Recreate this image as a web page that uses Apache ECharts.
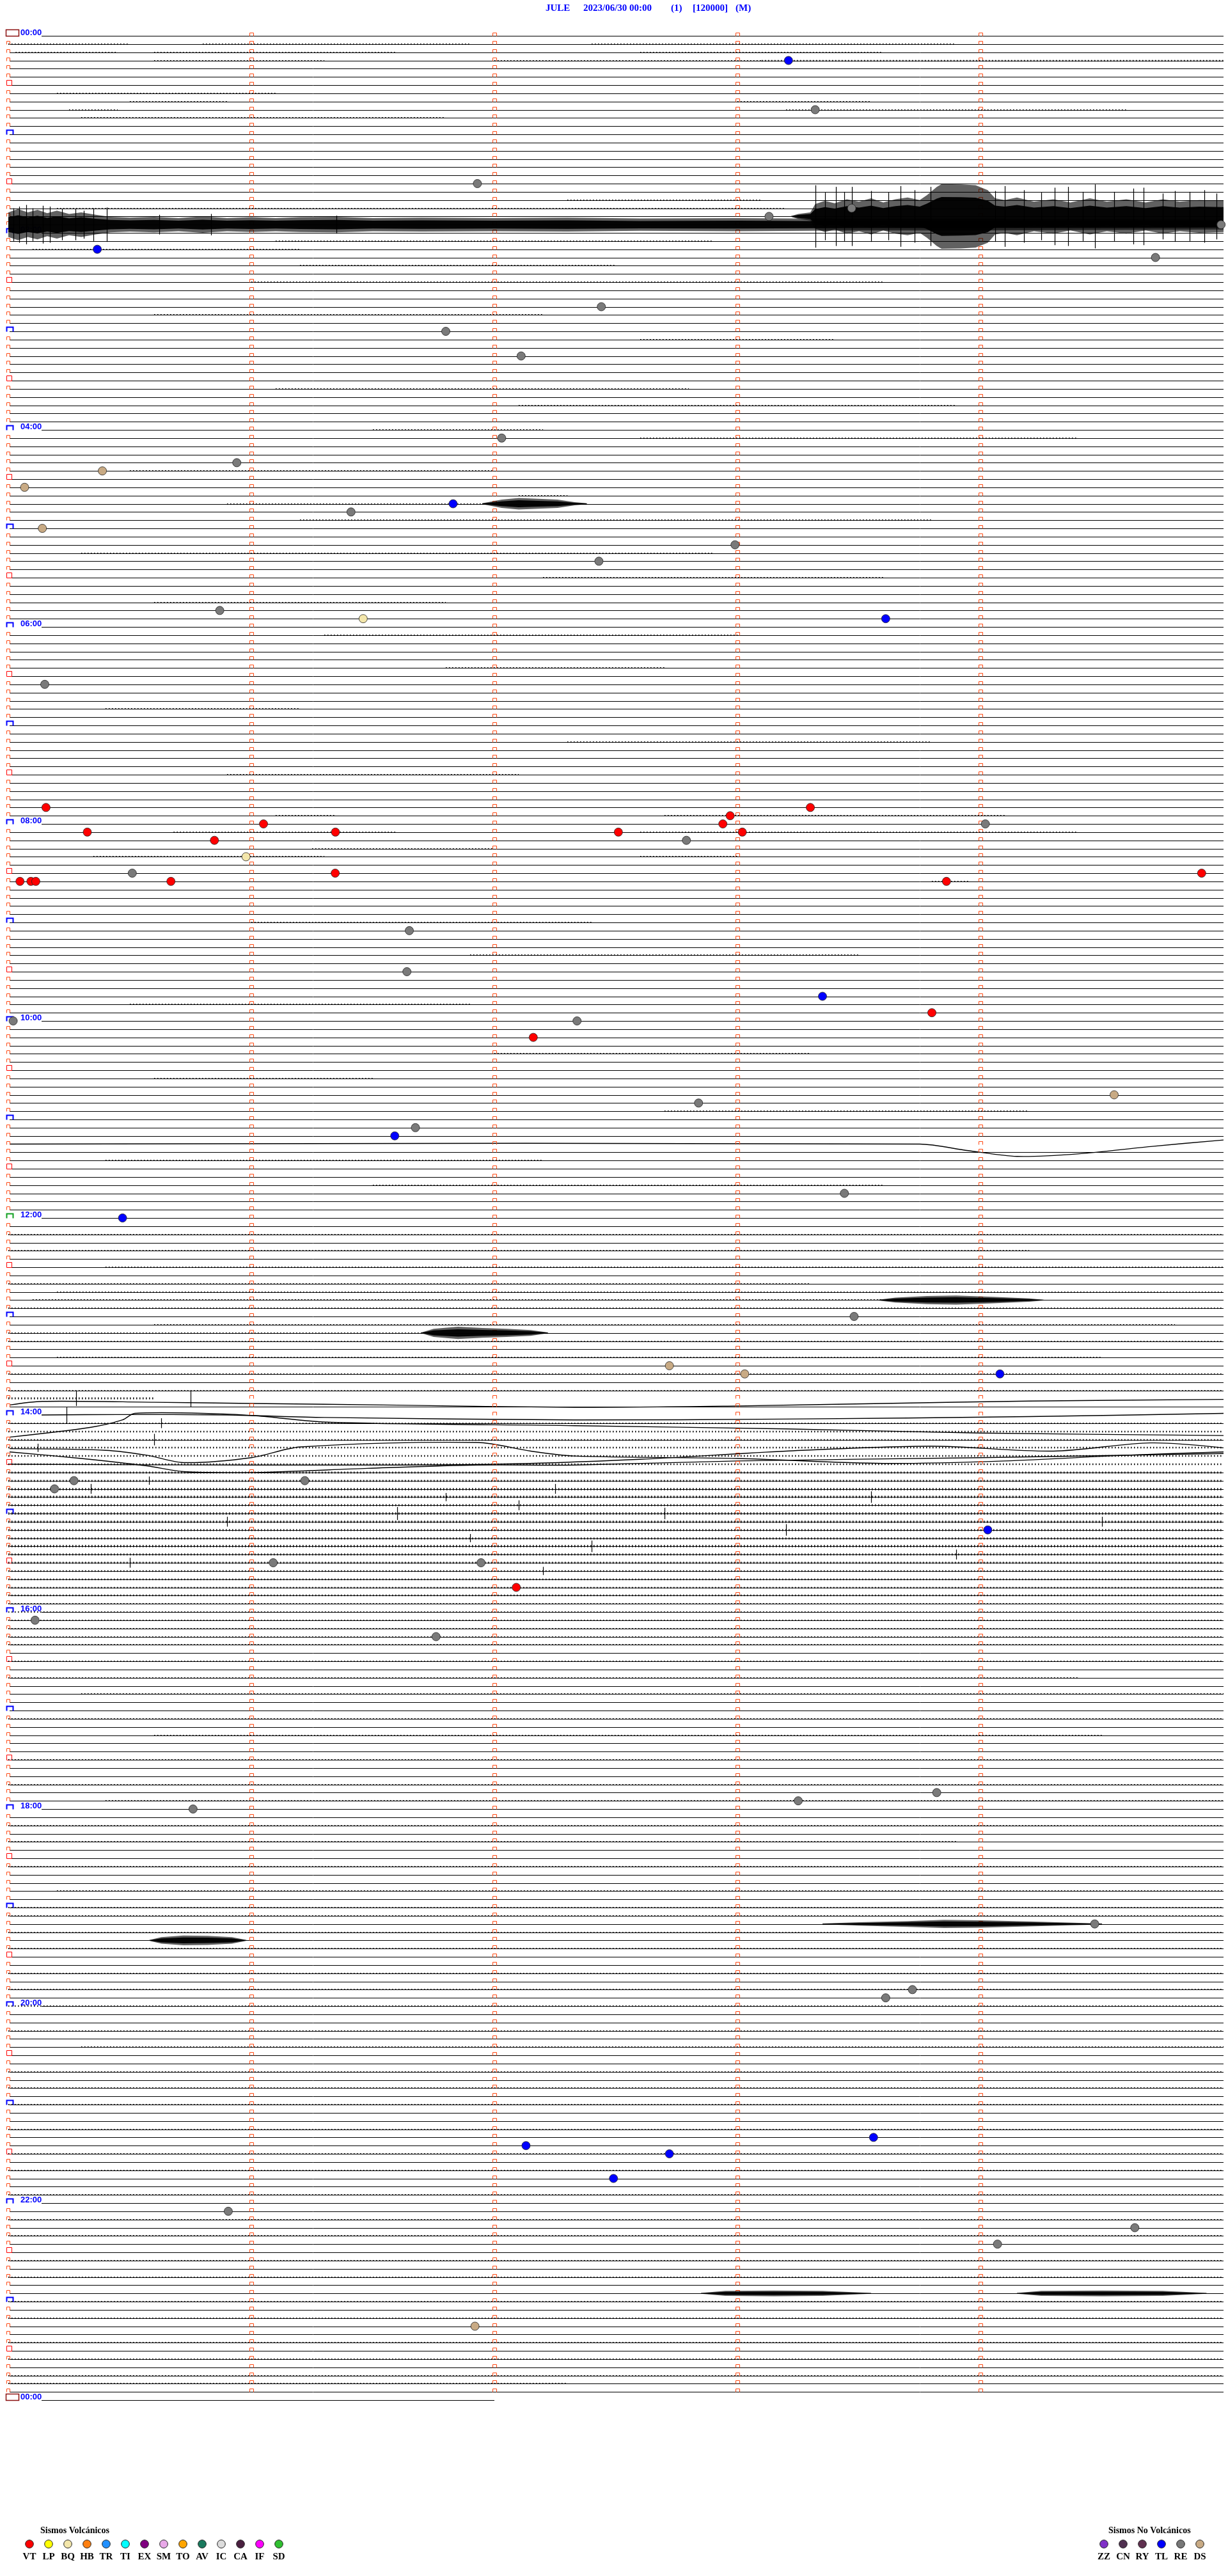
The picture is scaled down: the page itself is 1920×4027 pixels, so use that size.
<!DOCTYPE html>
<html><head><meta charset="utf-8">
<script src="https://cdn.jsdelivr.net/npm/echarts@6/dist/echarts.min.js"></script>
<style>html,body{margin:0;padding:0;background:#fff}#c{width:1920px;height:4027px}</style>
</head><body><div id="c"></div>
<script>
// ---------------- DATA ----------------
const STATION = 'JULE';
const DATE_TXT = '2023/06/30 00:00';
const CH_TXT = '(1)';
const SCALE_TXT = '[120000]';
const MODE_TXT = '(M)';
const N_LINES = 288;            // 5-minute traces
const MIN_PER_LINE = 5;
const LAST_LINE_END = 2;        // final 00:00 trace length (minutes)
const HOUR_LABELS = ['00:00','02:00','04:00','06:00','08:00','10:00','12:00','14:00','16:00','18:00','20:00','22:00','00:00'];

// event markers [minute, line]
const EV_RE = [[3.32,9],[1.93,18],[3.13,22],[3.47,21],[4.99,23],[4.72,27],[2.44,33],[1.80,36],[2.11,39],[2.03,49],[0.94,52],[1.41,58],[2.99,62],[2.43,64],[0.87,70],[0.15,79],[0.51,102],[2.79,98],[4.02,96],[1.65,109],[1.64,114],[0.02,120],[2.34,120],[2.84,130],[1.675,133],[3.44,141],[3.48,156],[0.27,176],[0.19,177],[1.22,176],[1.09,186],[1.945,186],[0.11,193],[1.76,195],[0.76,216],[3.25,215],[3.82,214],[4.47,230],[3.72,238],[3.61,239],[0.905,265],[4.635,267],[4.07,269]];
const EV_TL = [[3.21,3],[0.366,26],[1.83,57],[3.61,71],[3.35,117],[1.59,134],[0.47,144],[4.08,163],[4.03,182],[2.13,257],[2.72,258],[3.56,256],[2.49,261]];
const EV_VT = [[0.155,94],[3.30,94],[0.325,97],[0.848,98],[1.05,96],[1.346,97],[0.669,103],[0.048,103],[0.093,103],[0.113,103],[1.345,102],[2.97,95],[2.94,96],[2.51,97],[3.02,97],[3.86,103],[4.91,102],[3.80,119],[2.16,122],[2.09,189]];
const EV_DS = [[0.387,53],[0.067,55],[0.14,60],[4.55,129],[2.72,162],[3.03,163],[1.92,279]];
const EV_BQ = [[1.46,71],[0.978,100]];

// large signal envelopes [minute, half-amplitude in trace spacings]
const ENV_L22 = [[3.22,0.04],[3.25,0.3],[3.30,0.5],[3.32,1.5],[3.36,1.9],[3.40,1.6],[3.45,2.1],[3.50,1.8],[3.55,2.2],[3.60,1.7],[3.65,2.1],[3.70,2.3],[3.75,2.0],[3.78,2.6],[3.82,3.6],[3.84,3.95],[3.92,3.9],[3.98,3.8],[4.03,3.2],[4.06,2.2],[4.10,2.0],[4.15,2.3],[4.22,1.8],[4.30,2.1],[4.37,1.7],[4.45,2.2],[4.52,1.8],[4.60,2.1],[4.68,1.7],[4.75,2.1],[4.82,1.8],[4.90,2.0],[5.0,1.9]];
const ENV_L23 = [[0,1.5],[0.04,1.9],[0.08,1.5],[0.12,1.8],[0.16,1.4],[0.2,1.7],[0.25,1.3],[0.3,1.5],[0.36,1.2],[0.42,0.95],[0.5,0.85],[0.6,0.95],[0.7,0.8],[0.8,1.0],[0.9,0.8],[1.0,0.9],[1.1,0.8],[1.2,0.9],[1.35,0.95],[1.5,0.8],[1.7,0.85],[2.0,0.8],[2.3,0.85],[2.6,0.75],[3.0,0.8],[3.5,0.7],[4.0,0.7],[4.5,0.65],[5.0,0.6]];
const ENV_L57 = [[1.95,0.05],[2.03,0.5],[2.10,0.7],[2.18,0.6],[2.26,0.5],[2.33,0.2],[2.38,0.05]];
const ENV_L158 = [[1.70,0.05],[1.75,0.5],[1.85,0.75],[1.95,0.6],[2.05,0.5],[2.15,0.35],[2.22,0.05]];
const ENV_L154 = [[3.58,0.05],[3.65,0.3],[3.78,0.5],[3.90,0.55],[4.05,0.4],[4.20,0.2],[4.26,0.05]];
const ENV_L232 = [[0.58,0.05],[0.63,0.4],[0.72,0.6],[0.82,0.55],[0.92,0.4],[0.98,0.05]];
const ENV_L230 = [[3.35,0.05],[3.5,0.2],[3.7,0.35],[3.85,0.5],[4.0,0.45],[4.2,0.3],[4.45,0.1],[4.5,0.05]];
const ENV_L275A = [[2.85,0.05],[2.95,0.3],[3.15,0.35],[3.35,0.3],[3.55,0.05]];
const ENV_L275B = [[4.15,0.05],[4.25,0.3],[4.5,0.35],[4.75,0.3],[4.93,0.05]];

// isolated spikes [line, minute, half-amplitude]
const SPIKES = [[22,3.32,3.8],[22,3.36,2.9],[22,3.405,3.6],[22,3.44,3.0],[22,3.47,3.6],[22,3.55,3.1],[22,3.62,2.9],[22,3.67,3.7],[22,3.73,3.2],[22,3.795,3.6],[22,4.06,3.1],[22,4.10,3.7],[22,4.18,3.2],[22,4.25,2.9],[22,4.305,3.5],[22,4.36,3.6],[22,4.42,3.0],[22,4.47,3.9],[22,4.55,3.0],[22,4.63,3.4],[22,4.67,3.5],[22,4.75,2.8],[22,4.80,3.1],[22,4.86,3.0],[22,4.92,3.2],[22,4.97,2.8],
 [23,0.02,2.0],[23,0.046,2.2],[23,0.073,2.4],[23,0.10,2.0],[23,0.142,2.3],[23,0.17,2.2],[23,0.22,1.9],[23,0.277,1.9],[23,0.31,1.7],[23,0.35,2.0],[23,0.406,2.1],[23,0.62,1.2],[23,0.835,1.3],[23,1.35,1.1],
 [166,0.28,0.9],[166,0.75,1.0],[168,0.24,1.0],[169,0.63,0.6],[171,0.6,0.7],[172,0.12,0.5],[176,0.58,0.5],[177,0.34,0.6],[177,2.25,0.6],[178,1.8,0.5],
 [178,3.55,0.7],[179,2.1,0.6],[180,1.6,0.8],[180,2.7,0.7],[181,0.9,0.6],[181,4.5,0.6],[182,3.2,0.7],[183,1.9,0.5],[184,2.4,0.7],[185,3.9,0.6],[186,0.5,0.6],[187,2.2,0.5]];

// small noise segments [line, from min, to min, half-amplitude]
const NOISE = [[1,0,0.5,0.07],[1,0.8,1.9,0.06],[1,2.4,3.9,0.06],[2,0.03,0.45,0.07],[2,0.6,1.6,0.06],[2,2.6,3.6,0.06],
 [3,0.6,1.3,0.05],[3,2.0,3.1,0.07],[3,3.1,5.0,0.1],[7,0.2,1.1,0.07],[8,0.5,0.9,0.08],[8,3.0,3.55,0.07],[9,0.25,0.45,0.07],[9,3.2,4.6,0.06],[10,0.3,1.8,0.06],
 [21,0.2,3.2,0.07],[20,2.3,3.1,0.06],[25,1.1,2.9,0.06],[26,0.1,1.2,0.05],[28,1.2,2.5,0.05],[30,1.0,3.6,0.06],[34,0.6,2.2,0.06],[37,2.6,3.4,0.06],
 [43,1.1,2.8,0.05],[45,2.1,3.9,0.06],[48,1.5,2.2,0.05],[49,2.6,4.4,0.07],[53,0.5,2.0,0.07],[56,2.1,2.3,0.06],[57,0.9,2.0,0.08],[59,1.2,3.8,0.06],[63,0.3,2.9,0.06],
 [66,2.2,3.6,0.05],[69,0.6,1.8,0.05],[73,1.3,3.0,0.06],[77,1.8,2.7,0.05],[82,0.4,1.2,0.05],[86,2.3,3.8,0.05],[90,0.9,2.1,0.05],[95,1.1,1.35,0.07],[95,2.7,4.1,0.06],
 [97,0.68,1.6,0.06],[97,2.6,4.4,0.06],[99,1.25,2.0,0.05],[100,0.35,1.3,0.06],[100,2.6,3.0,0.05],[103,3.8,3.95,0.07],[108,1.0,2.4,0.05],[112,1.9,3.5,0.05],
 [118,0.5,1.9,0.05],[124,2.0,3.3,0.06],[127,0.6,1.5,0.05],[131,2.7,4.2,0.05],[137,0.4,2.2,0.06],[140,1.5,3.6,0.06],
 [146,0,5,0.06],[148,0,4.2,0.06],[150,0.4,5,0.07],[152,0,3.3,0.06],[153,0.2,5,0.07],[154,0.1,3.6,0.06],[155,0,5,0.06],[157,0.6,4.8,0.07],[158,0,1.7,0.06],[159,0,5,0.06],[161,0.2,4.5,0.06],[163,0,5,0.07],
 [165,0,5,0.07],[166,0,0.6,0.12],[169,0,5,0.08],[170,0,5,0.1],[171,0,5,0.1],[172,0,5,0.1],[173,0,5,0.1],[174,0,5,0.09],[175,0,5,0.12],[176,0,5,0.12],[177,0,5,0.13],[178,0,5,0.14],
 [179,0,5,0.12],[180,0,5,0.14],[181,0,5,0.13],[182,0,5,0.12],[183,0,5,0.12],[184,0,5,0.13],[185,0,5,0.12],[186,0,5,0.11],[187,0,5,0.1],[188,0,5,0.1],[189,0,5,0.09],[190,0,5,0.09],
 [191,0,5,0.08],[192,0,5,0.08],[193,0,5,0.08],[194,0,5,0.07],[195,0,5,0.07],[196,0,5,0.06],[198,0,5,0.06],[200,0,4.4,0.06],[202,0.3,5,0.06],[205,0,5,0.06],[207,0.6,4.5,0.05],
 [210,0,5,0.06],[213,0,5,0.06],[215,0.4,5,0.06],[218,0,5,0.06],[220,0,3.9,0.06],[223,0,5,0.06],[226,0.2,5,0.07],[228,0,5,0.07],[229,0,5,0.07],[231,0,5,0.07],[233,0,5,0.06],
 [236,0,5,0.07],[238,0,5,0.06],[240,0,5,0.06],[243,0,5,0.06],[245,0.3,5,0.06],[248,0,5,0.07],[250,0,5,0.06],[252,0,5,0.06],[255,0,5,0.07],[258,0,5,0.06],[260,0,5,0.06],
 [263,0,5,0.07],[266,0,5,0.06],[268,0,5,0.06],[271,0,5,0.07],[273,0,5,0.07],[276,0,5,0.06],[278,0,5,0.06],[281,0,5,0.07],[283,0,5,0.07],[285,0,5,0.07],[286,0,2.3,0.06]];

// long-period drift of some traces: [minute, offset in trace spacings]
const DRIFT_L166 = [[0,0.78],[0.14,0.34],[0.6,0.45],[1.0,0.6],[1.6,0.8],[2.33,1.07],[3.0,0.9],[3.6,0.6],[4.2,0.3],[5.0,0.1]];
const DRIFT_L168 = [[0,0],[0.45,-0.05],[0.9,0.0],[1.3,0.3],[2.33,0.6],[3.2,0.5],[4.2,0.2],[5.0,-0.2]];
const DRIFT_L170 = [[0,0.7],[0.34,-0.5],[0.47,-1.4],[0.52,-2.2],[0.87,-2.15],[1.02,-1.9],[1.33,-1.1],[2.33,-0.7],[3.2,-0.3],[4.0,0.2],[5.0,0.5]];
const DRIFT_L172 = [[0,0.1],[0.4,0.3],[0.57,0.9],[0.72,1.8],[1.0,1.2],[1.2,-0.1],[1.93,-0.65],[2.15,0.4],[2.33,1.0],[3.0,1.3],[3.6,1.9],[4.1,1.6],[4.6,0.9],[5.0,0.5]];
const DRIFT_L173 = [[0,-0.5],[0.3,0.3],[0.57,1.2],[0.72,1.9],[1.02,2.0],[1.48,1.5],[1.93,1.1],[2.33,1.1],[3.0,0.6],[4.0,0.2],[5.0,-0.3]];
const DRIFT_L174 = [[0,0],[1.0,0.1],[2.0,0],[2.6,-0.6],[3.2,-1.6],[3.8,-2.2],[4.3,-1.6],[4.7,-2.6],[5.0,-2.0]];
const DRIFT_L135 = [[0,0],[3.75,0],[3.95,0.8],[4.15,1.5],[4.4,1.2],[4.7,0.3],[5.0,-0.5]];

// legend
const LEG_VOLC = ['VT','LP','BQ','HB','TR','TI','EX','SM','TO','AV','IC','CA','IF','SD'];
const LEG_VOLC_COL = ['#ff0000','#ffff00','#f3e6aa','#ff8010','#2090ff','#00ffff','#800080','#e8a8e8','#ffa500','#1a7a5e','#dcdcdc','#4a2040','#ff00ff','#30c030'];
const LEG_NOVOLC = ['ZZ','CN','RY','TL','RE','DS'];
const LEG_NOVOLC_COL = ['#8030c8','#503050','#603050','#0000ff','#777777','#c8aa84'];

// ---------------- CHART ----------------
const DRIFT = {135: DRIFT_L135, 166: DRIFT_L166, 168: DRIFT_L168, 170: DRIFT_L170, 172: DRIFT_L172, 173: DRIFT_L173, 174: DRIFT_L174};
const EVENTS = [[22,ENV_L22],[23,ENV_L23],[57,ENV_L57],[158,ENV_L158],[154,ENV_L154],[232,ENV_L232],[230,ENV_L230],[275,ENV_L275A],[275,ENV_L275B]];
const LINES = [];
for (let i = 0; i <= N_LINES; i++) LINES.push([i, 0]);

const ORANGE = '#ff4a14';
const BLUE = '#0000ff';
const chart = echarts.init(document.getElementById('c'), null, {renderer: 'canvas'});

function px(v){ return Math.round(v) + 0.5; }

function renderTrace(params, api) {
  const L = api.value(0);
  const p0 = api.coord([0, L]);
  const x0 = p0[0];
  const y = px(p0[1]);
  const ch = [];
  const labelled = L % 24 === 0;
  const isEnd = L === N_LINES;
  const xs = labelled ? x0 + 52 : x0 + 2;
  const endMin = isEnd ? LAST_LINE_END : MIN_PER_LINE;
  let pts;
  if (DRIFT[L]) {
    pts = DRIFT[L].map(function(d){ const c = api.coord([d[0], L + d[1]]); return [c[0], c[1]]; });
    pts[0][0] = Math.max(pts[0][0], xs);
  } else {
    pts = [[xs, y], [api.coord([endMin, L])[0], y]];
  }
  ch.push({type:'polyline', shape:{points: pts, smooth: DRIFT[L] ? 0.3 : 0}, style:{stroke:'#000', lineWidth: DRIFT[L] ? 1.4 : 1, fill:null}});
  // left box
  const bx = Math.round(x0) - 3 + 0.5;
  if (L === 0 || L === N_LINES) {
    ch.push({type:'rect', shape:{x: bx-1, y: y-10, width: 20, height: 10}, style:{stroke:'#8b1010', lineWidth:1.5, fill:null}});
  } else if (L % 12 === 0) {
    const col = (L === 144) ? '#10a020' : BLUE;
    ch.push({type:'polyline', shape:{points:[[bx,y],[bx,y-7],[bx+10,y-7],[bx+10,y]]}, style:{stroke:col, lineWidth:2, fill:null}});
  } else if (L % 6 === 0) {
    ch.push({type:'rect', shape:{x: bx, y: y-8, width: 8, height: 8}, style:{stroke:'#ff0000', lineWidth:1, fill:null}});
  } else {
    ch.push({type:'polyline', shape:{points:[[bx,y],[bx,y-5],[bx+5,y-5],[bx+5,y]]}, style:{stroke:ORANGE, lineWidth:1, fill:null}});
  }
  if (labelled) {
    ch.push({type:'text', style:{text: HOUR_LABELS[L/24], x: x0 + 19, y: y + 1, fill: BLUE, font: 'bold 13px "Liberation Sans", Arial, sans-serif', textAlign:'left', textVerticalAlign:'bottom'}});
  }
  if (!isEnd) {
    for (let k = 1; k < MIN_PER_LINE; k++) {
      const xk = Math.round(api.coord([k, L])[0]) + 0.5;
      ch.push({type:'polyline', shape:{points:[[xk-3,y],[xk-3,y-5],[xk+3,y-5],[xk+3,y]]}, style:{stroke:ORANGE, lineWidth:1, fill:null}});
    }
  }
  return {type:'group', children: ch};
}

function p0y(api, L){ return api.coord([0, L])[1]; }
function renderNoise(params, api) {
  const L = api.value(0), a = api.value(3);
  const p1 = api.coord([api.value(1), L - a]);
  const p2 = api.coord([api.value(2), L + a]);
  const h = Math.max(2, p2[1] - p1[1]);
  const yc = Math.round(p0y(api, L)) + 0.5;
  return {type:'line', shape:{x1:p1[0], y1:yc - 0.5, x2:p2[0], y2:yc - 0.5},
    style:{stroke:'#000', lineWidth:h, lineDash:[1.5, 3.5]}};
}

function renderSpike(params, api) {
  const L = api.value(0), m = api.value(1), a = api.value(2);
  const p1 = api.coord([m, L - a]), p2 = api.coord([m, L + a]);
  const x = Math.round(p1[0]) + 0.5;
  return {type:'line', shape:{x1:x, y1:p1[1], x2:x, y2:p2[1]}, style:{stroke:'#000', lineWidth:1.2}};
}

function envPoly(api, L, env, f) {
  const up = env.map(function(d){ return api.coord([d[0], L - d[1]*f]); });
  const dn = env.slice().reverse().map(function(d){ return api.coord([d[0], L + d[1]*f]); });
  return up.concat(dn);
}
function renderEvent(params, api) {
  const i = api.value(0);
  const L = EVENTS[i][0], env = EVENTS[i][1];
  return {type:'group', children:[
    {type:'polygon', shape:{points: envPoly(api, L, env, 1)}, style:{fill:'rgba(0,0,0,0.62)'}},
    {type:'polygon', shape:{points: envPoly(api, L, env, 0.6)}, style:{fill:'rgba(0,0,0,0.95)'}}
  ]};
}

function markerSeries(name, data, color) {
  return {type:'scatter', name:name, data:data, symbol:'circle', symbolSize:13, z:10,
    itemStyle:{color:color, borderColor:'#222', borderWidth:0.8, opacity:1}, silent:true};
}

const graphic = [];
const TF = 'bold 15px "Liberation Serif", "Times New Roman", serif';
graphic.push({type:'text', left:853, top:6, style:{text:STATION, font:TF, fill:BLUE}});
graphic.push({type:'text', left:912, top:6, style:{text:DATE_TXT, font:TF, fill:BLUE}});
graphic.push({type:'text', left:1049, top:6, style:{text:CH_TXT, font:TF, fill:BLUE}});
graphic.push({type:'text', left:1083, top:6, style:{text:SCALE_TXT, font:TF, fill:BLUE}});
graphic.push({type:'text', left:1150, top:6, style:{text:MODE_TXT, font:TF, fill:BLUE}});
const LF = 'bold 14px "Liberation Serif", "Times New Roman", serif';
const LF2 = 'bold 15px "Liberation Serif", "Times New Roman", serif';
graphic.push({type:'text', left:63, top:3949, style:{text:'Sismos Volcánicos', font:LF, fill:'#000'}});
LEG_VOLC.forEach(function(t, i){
  const cx = 46 + i*30;
  graphic.push({type:'circle', shape:{cx:cx, cy:3977, r:6.3}, style:{fill:LEG_VOLC_COL[i], stroke:'#222', lineWidth:1}});
  graphic.push({type:'text', x:cx, y:3997, style:{text:t, font:LF2, fill:'#000', textAlign:'center', textVerticalAlign:'middle'}});
});
graphic.push({type:'text', left:1733, top:3949, style:{text:'Sismos No Volcánicos', font:LF, fill:'#000'}});
LEG_NOVOLC.forEach(function(t, i){
  const cx = 1726 + i*30;
  graphic.push({type:'circle', shape:{cx:cx, cy:3977, r:6.3}, style:{fill:LEG_NOVOLC_COL[i], stroke:'#222', lineWidth:1}});
  graphic.push({type:'text', x:cx, y:3997, style:{text:t, font:LF2, fill:'#000', textAlign:'center', textVerticalAlign:'middle'}});
});

chart.setOption({
  animation:false,
  backgroundColor:'#fff',
  grid:{left:13, top:56, width:1900, height:3696, containLabel:false},
  xAxis:{type:'value', min:0, max:MIN_PER_LINE, show:false},
  yAxis:{type:'value', min:0, max:N_LINES, inverse:true, show:false},
  graphic: graphic,
  series:[
    {type:'custom', name:'traces', data:LINES, renderItem:renderTrace, encode:{x:1, y:0}, z:2, silent:true},
    {type:'custom', name:'noise', data:NOISE, renderItem:renderNoise, encode:{x:1, y:0}, z:3, silent:true},
    {type:'custom', name:'events', data:EVENTS.map(function(e,i){return [i, 0];}), renderItem:renderEvent, encode:{x:1, y:0}, z:4, silent:true},
    {type:'custom', name:'spikes', data:SPIKES, renderItem:renderSpike, encode:{x:1, y:0}, z:4, silent:true},
    markerSeries('RE', EV_RE, '#7a7a7a'),
    markerSeries('TL', EV_TL, '#0000ff'),
    markerSeries('VT', EV_VT, '#ff0000'),
    markerSeries('DS', EV_DS, '#c8aa84'),
    markerSeries('BQ', EV_BQ, '#f3e6aa')
  ]
});
</script>
</body></html>
